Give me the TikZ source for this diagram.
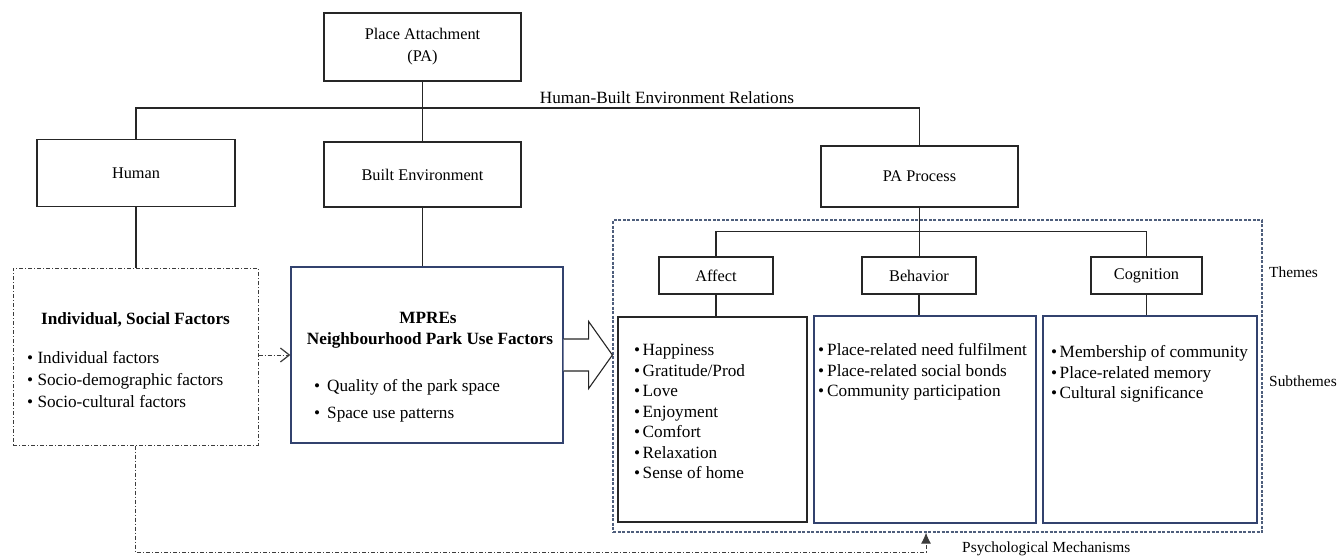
\documentclass[tikz,border=0pt]{standalone}
\usepackage{fontspec}
\setmainfont{Liberation Serif}
\usetikzlibrary{arrows.meta,calc}
\definecolor{navy}{RGB}{50,66,110}
\definecolor{dashblue}{RGB}{78,94,124}
\definecolor{ddgray}{RGB}{60,60,60}
\begin{document}
\begin{tikzpicture}[x=1pt,y=-1pt,
  box/.style={draw=black!85, line width=1.3pt, inner sep=0pt, align=center,
    font=\fontsize{16.3}{22}\selectfont},
  bbox/.style={draw=navy, line width=1.3pt, inner sep=0pt},
  kbox/.style={draw=black!85, line width=1.3pt, inner sep=0pt},
  ddbox/.style={draw=ddgray, line width=1pt, inner sep=0pt,
    dash pattern=on 4pt off 2pt on 1pt off 2pt},
  obox/.style={draw=dashblue, line width=1.2pt, inner sep=0pt,
    dash pattern=on 3pt off 1.5pt},
  conn/.style={draw=black!85, line width=1.3pt},
  dd/.style={draw=ddgray, line width=1pt, dash pattern=on 4pt off 2pt on 1pt off 2pt},
  lst/.style={anchor=base west, inner sep=0pt, font=\fontsize{17.2}{20}\selectfont},
  ttl/.style={anchor=base, inner sep=0pt, font=\fontsize{17.2}{20}\selectfont\bfseries},
  side/.style={anchor=west, inner sep=0pt, font=\fontsize{15.4}{18}\selectfont},
  lbl/.style={inner sep=0pt, font=\fontsize{17.2}{20}\selectfont}
]
\useasboundingbox (0,0) rectangle (1338,558);

% outer dashed frame
\node[obox, minimum width=649pt, minimum height=312pt] (outer) at (937.5,376) {};

% top level boxes
\node[box, minimum width=197pt, minimum height=68pt] (pa) at (422.5,47) {Place Attachment\\(PA)};
\node[box, minimum width=198pt, minimum height=67pt] (human) at (136,173) {Human};
\node[box, minimum width=197pt, minimum height=65pt] (built) at (422.5,174.5) {Built Environment};
\node[box, minimum width=197pt, minimum height=61pt] (proc) at (919.5,176.5) {PA Process};

\node[lbl] (hber) at (667,98) {Human-Built Environment Relations};

% factor boxes
\node[ddbox, minimum width=245pt, minimum height=177pt] (indiv) at (135.5,356.5) {};
\node[bbox, minimum width=272pt, minimum height=176pt] (mpres) at (427,355) {};

% themes
\node[box, minimum width=114pt, minimum height=37pt] (affect) at (716,275.5) {Affect};
\node[box, minimum width=114pt, minimum height=37pt] (behav) at (919,275.5) {Behavior};
\node[box, minimum width=111pt, minimum height=37pt] (cogn) at (1146.5,275.5) {Cognition};

% subthemes
\node[kbox, minimum width=189pt, minimum height=205pt] (saff) at (712.5,419.5) {};
\node[bbox, minimum width=222pt, minimum height=207pt] (sbeh) at (925,419.5) {};
\node[bbox, minimum width=214pt, minimum height=207pt] (scog) at (1150,419.5) {};

% side labels
\node[side] (themes) at (1269,272) {Themes};
\node[side] (subthemes) at (1269,381) {Subthemes};
\node[side] (psy) at (962,549) {Psychological Mechanisms};

% connectors
\draw[conn] (pa.south) -- (built.north);
\draw[conn] (human.north) -- ++(0,-31) -| (proc.north);
\draw[conn] (human.south) -- (human.south |- indiv.north);
\draw[conn] (built.south) -- (built.south |- mpres.north);
\draw[conn] (proc.south) -- (proc.south |- behav.north);
\draw[conn] (affect.north) -- ++(0,-25) -| (cogn.north);
\draw[conn] (affect.south) -- (affect.south |- saff.north);
\draw[conn] (behav.south) -- (behav.south |- sbeh.north);
\draw[conn] (cogn.south) -- (cogn.south |- scog.north);

% dash-dot arrow individual -> MPREs
\draw[dd, -{Straight Barb[length=9pt,width=14pt,line width=1.2pt]}]
  (indiv.east |- mpres.east) -- (mpres.west |- mpres.east);

% hollow block arrow MPREs -> PA process frame
\draw[line width=1.1pt, draw=black!85, fill=white]
  ($(mpres.east)+(0,-16)$) -- ++(25,0) -- ++(0,-17.5)
  -- (outer.west |- mpres.east)
  -- ($(mpres.east)+(25,33.5)$) -- ++(0,-17.5) -- ($(mpres.east)+(0,16)$);

% psychological mechanisms feedback path
\coordinate (pmc) at (926,552);
\draw[dd, -{Latex[length=11pt,width=10pt]}] (indiv.south) |- (pmc) -- (pmc |- outer.south);

% texts: individual box
\node[ttl] (indt) at (135.5,324) {Individual, Social Factors};
\foreach \t [count=\i from 0] in {Individual factors, Socio-demographic factors, Socio-cultural factors}
  \node[lst] (ind\i) at (27,{363.7+22*\i}) {\textbullet\ \t};

% texts: MPREs box
\node[ttl] (mpt1) at (428,323.7) {MPREs};
\node[ttl] (mpt2) at (430,344) {Neighbourhood Park Use Factors};
\node[lst] (mp1) at (314,391.7) {\makebox[13pt][l]{\textbullet}Quality of the park space};
\node[lst] (mp2) at (314,418.7) {\makebox[13pt][l]{\textbullet}Space use patterns};

% texts: subthemes
\foreach \t [count=\i from 0] in {Happiness, Gratitude/Prod, Love, Enjoyment, Comfort, Relaxation, Sense of home}
  \node[lst] (aff\i) at (634,{355.7+20.5*\i}) {\textbullet\hspace{2.5pt}\t};
\foreach \t [count=\i from 0] in {Place-related need fulfilment, Place-related social bonds, Community participation}
  \node[lst] (beh\i) at (818,{355.7+20.5*\i}) {\textbullet\hspace{3pt}\t};
\foreach \t [count=\i from 0] in {Membership of community, Place-related memory, Cultural significance}
  \node[lst] (cog\i) at (1051,{357.7+20.5*\i}) {\textbullet\hspace{2.5pt}\t};
\end{tikzpicture}
\end{document}
